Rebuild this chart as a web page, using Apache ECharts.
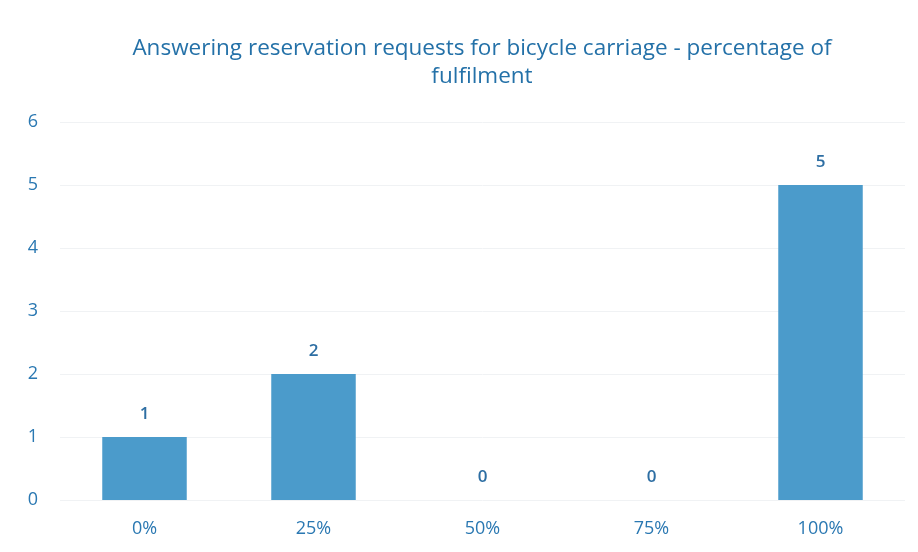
<!DOCTYPE html>
<html>
<head>
<meta charset="utf-8">
<script src="https://cdn.jsdelivr.net/npm/echarts@6/dist/echarts.min.js"></script>
<style>
  html, body { margin: 0; padding: 0; background: #fff; }
  #chart { width: 918px; height: 552px; }
</style>
</head>
<body>
<div id="chart"></div>
<script>
const categories = ['0%', '25%', '50%', '75%', '100%']
const counts = [1, 2, 0, 0, 5]
const titleText = 'Answering reservation requests for bicycle carriage - percentage of\nfulfilment'

const textBlue = '#2a78b2'

const chart = echarts.init(document.getElementById('chart'))
chart.setOption({
  animation: false,
  title: {
    text: titleText,
    left: 477,
    top: 30,
    textAlign: 'center',
    textStyle: {
      color: '#2471a8',
      fontFamily: 'Open Sans',
      fontSize: 22.5,
      fontWeight: 'normal',
      lineHeight: 28
    }
  },
  grid: {
    left: 60,
    right: 13,
    top: 122,
    bottom: 52
  },
  xAxis: {
    type: 'category',
    data: categories,
    axisLine: { show: false },
    axisTick: { show: false },
    axisLabel: {
      color: textBlue,
      fontFamily: 'Open Sans',
      fontSize: 18,
      margin: 20
    }
  },
  yAxis: {
    type: 'value',
    min: 0,
    max: 6,
    interval: 1,
    axisLine: { show: false },
    axisTick: { show: false },
    splitLine: {
      lineStyle: { color: '#f0f2f4', width: 1 }
    },
    axisLabel: {
      color: textBlue,
      fontFamily: 'Open Sans',
      fontSize: 18,
      margin: 22
    }
  },
  series: [{
    type: 'bar',
    data: counts,
    barWidth: '50%',
    itemStyle: {
      color: '#4b9bcb'
    },
    label: {
      show: true,
      position: 'top',
      distance: 14,
      color: '#2d6ea3',
      fontFamily: 'Open Sans',
      fontSize: 17,
      fontWeight: 600
    }
  }]
})
</script>
</body>
</html>
